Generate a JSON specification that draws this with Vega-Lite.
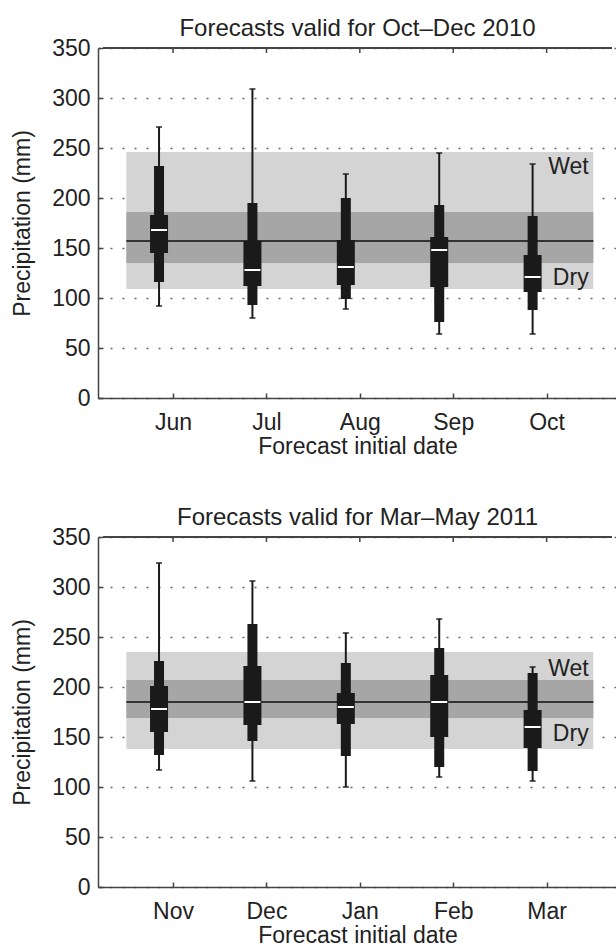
{
  "$schema": "https://vega.github.io/schema/vega-lite/v6.json",
  "padding": {"left": 11, "top": 17, "right": 0, "bottom": 0},
  "spacing": 48,
  "datasets": {
    "boxes": [
      {"panel": 1, "month": "Jun", "pos": 0.85, "min": 92, "p10": 116, "q25": 145, "med": 168, "q75": 183, "p90": 232, "max": 271},
      {"panel": 1, "month": "Jul", "pos": 1.85, "min": 80, "p10": 93, "q25": 112, "med": 128, "q75": 157, "p90": 195, "max": 309},
      {"panel": 1, "month": "Aug", "pos": 2.85, "min": 89, "p10": 99, "q25": 113, "med": 131, "q75": 158, "p90": 200, "max": 224},
      {"panel": 1, "month": "Sep", "pos": 3.85, "min": 64, "p10": 76, "q25": 111, "med": 148, "q75": 161, "p90": 193, "max": 245},
      {"panel": 1, "month": "Oct", "pos": 4.85, "min": 64, "p10": 88, "q25": 106, "med": 121, "q75": 143, "p90": 182, "max": 234},
      {"panel": 2, "month": "Nov", "pos": 0.85, "min": 117, "p10": 132, "q25": 155, "med": 178, "q75": 201, "p90": 226, "max": 324},
      {"panel": 2, "month": "Dec", "pos": 1.85, "min": 106, "p10": 146, "q25": 162, "med": 185, "q75": 221, "p90": 263, "max": 306},
      {"panel": 2, "month": "Jan", "pos": 2.85, "min": 100, "p10": 131, "q25": 163, "med": 180, "q75": 194, "p90": 224, "max": 254},
      {"panel": 2, "month": "Feb", "pos": 3.85, "min": 110, "p10": 120, "q25": 150, "med": 185, "q75": 212, "p90": 239, "max": 268},
      {"panel": 2, "month": "Mar", "pos": 4.85, "min": 106, "p10": 116, "q25": 139, "med": 160, "q75": 177, "p90": 214, "max": 220}
    ],
    "bands": [
      {"panel": 1, "x0": 0.5, "x1": 5.5, "lo1": 109, "hi1": 246, "lo2": 135, "hi2": 186, "clim": 157},
      {"panel": 2, "x0": 0.5, "x1": 5.5, "lo1": 138, "hi1": 235, "lo2": 169, "hi2": 207, "clim": 185}
    ],
    "labels": [
      {"panel": 1, "x": 5.45, "y": 231, "text": "Wet"},
      {"panel": 1, "x": 5.45, "y": 120, "text": "Dry"},
      {"panel": 2, "x": 5.45, "y": 218, "text": "Wet"},
      {"panel": 2, "x": 5.45, "y": 153, "text": "Dry"}
    ],
    "ticks": [{"t": 1}, {"t": 2}, {"t": 3}, {"t": 4}, {"t": 5}]
  },
  "config": {
    "font": "Liberation Sans",
    "view": {"stroke": null},
    "axis": {
      "labelFontSize": 23, "titleFontSize": 23, "labelColor": "#222", "titleColor": "#222",
      "titleFontWeight": "normal", "domainColor": "#444", "domainWidth": 1.5,
      "tickColor": "#444", "tickWidth": 1.5, "tickSize": -5
    },
    "title": {"fontSize": 24, "fontWeight": "normal", "color": "#222", "offset": -4}
  },
  "vconcat": [
    {
      "title": "Forecasts valid for Oct–Dec 2010",
      "width": 519, "height": 350,
      "layer": [
        {
          "data": {"name": "bands"}, "transform": [{"filter": "datum.panel == 1"}],
          "mark": {"type": "rect", "color": "#d4d4d4"},
          "encoding": {
            "x": {"field": "x0", "type": "quantitative", "scale": {"domain": [0.25, 5.7], "nice": false, "zero": false},
                  "axis": {"values": [1, 2, 3, 4, 5], "labelExpr": "['','Jun','Jul','Aug','Sep','Oct'][datum.value]", "title": "Forecast initial date", "labelPadding": 18, "titlePadding": 1, "grid": false}},
            "x2": {"field": "x1"},
            "y": {"field": "lo1", "type": "quantitative", "scale": {"domain": [0, 350], "nice": false},
                  "axis": {"values": [0, 50, 100, 150, 200, 250, 300, 350], "title": "Precipitation (mm)", "labelPadding": 13, "titlePadding": 17, "grid": true, "gridDash": [2, 10], "gridColor": "#666", "gridWidth": 1.5}},
            "y2": {"field": "hi1"}
          }
        },
        {
          "data": {"name": "bands"}, "transform": [{"filter": "datum.panel == 1"}],
          "mark": {"type": "rect", "color": "#a6a6a6"},
          "encoding": {
            "x": {"field": "x0", "type": "quantitative"},
            "x2": {"field": "x1"},
            "y": {"field": "lo2", "type": "quantitative"},
            "y2": {"field": "hi2"}
          }
        },
        {
          "data": {"name": "bands"}, "transform": [{"filter": "datum.panel == 1"}],
          "mark": {"type": "rule", "color": "#333", "strokeWidth": 2},
          "encoding": {
            "x": {"field": "x0", "type": "quantitative"},
            "x2": {"field": "x1"},
            "y": {"field": "clim", "type": "quantitative"}
          }
        },
        {
          "data": {"name": "ticks"},
          "mark": {"type": "rule", "color": "#444", "strokeWidth": 1.5},
          "encoding": {
            "x": {"field": "t", "type": "quantitative"},
            "y": {"datum": 350},
            "y2": {"datum": 345}
          }
        },
        {
          "data": {"name": "ticks"},
          "mark": {"type": "rule", "color": "#444", "strokeWidth": 1.5},
          "encoding": {
            "x": {"datum": 0.25},
            "x2": {"datum": 5.7},
            "y": {"datum": 350}
          }
        },
        {
          "data": {"name": "boxes"}, "transform": [{"filter": "datum.panel == 1"}],
          "mark": {"type": "rule", "color": "#1a1a1a", "strokeWidth": 2},
          "encoding": {
            "x": {"field": "pos", "type": "quantitative"},
            "y": {"field": "min", "type": "quantitative"},
            "y2": {"field": "max"}
          }
        },
        {
          "data": {"name": "boxes"}, "transform": [{"filter": "datum.panel == 1"}, {"fold": ["min", "max"], "as": ["stat", "val"]}],
          "mark": {"type": "tick", "color": "#1a1a1a", "orient": "horizontal", "size": 6, "thickness": 2},
          "encoding": {
            "x": {"field": "pos", "type": "quantitative"},
            "y": {"field": "val", "type": "quantitative"}
          }
        },
        {
          "data": {"name": "boxes"}, "transform": [{"filter": "datum.panel == 1"}],
          "mark": {"type": "bar", "color": "#1a1a1a", "size": 10},
          "encoding": {
            "x": {"field": "pos", "type": "quantitative"},
            "y": {"field": "p10", "type": "quantitative"},
            "y2": {"field": "p90"}
          }
        },
        {
          "data": {"name": "boxes"}, "transform": [{"filter": "datum.panel == 1"}],
          "mark": {"type": "bar", "color": "#1a1a1a", "size": 18},
          "encoding": {
            "x": {"field": "pos", "type": "quantitative"},
            "y": {"field": "q25", "type": "quantitative"},
            "y2": {"field": "q75"}
          }
        },
        {
          "data": {"name": "boxes"}, "transform": [{"filter": "datum.panel == 1"}],
          "mark": {"type": "tick", "color": "white", "orient": "horizontal", "size": 16, "thickness": 2, "opacity": 1},
          "encoding": {
            "x": {"field": "pos", "type": "quantitative"},
            "y": {"field": "med", "type": "quantitative"}
          }
        },
        {
          "data": {"name": "labels"}, "transform": [{"filter": "datum.panel == 1"}],
          "mark": {"type": "text", "align": "right", "baseline": "middle", "fontSize": 23, "color": "#222"},
          "encoding": {
            "x": {"field": "x", "type": "quantitative"},
            "y": {"field": "y", "type": "quantitative"},
            "text": {"field": "text"}
          }
        }
      ]
    },
    {
      "title": "Forecasts valid for Mar–May 2011",
      "width": 519, "height": 350,
      "layer": [
        {
          "data": {"name": "bands"}, "transform": [{"filter": "datum.panel == 2"}],
          "mark": {"type": "rect", "color": "#d4d4d4"},
          "encoding": {
            "x": {"field": "x0", "type": "quantitative", "scale": {"domain": [0.25, 5.7], "nice": false, "zero": false},
                  "axis": {"values": [1, 2, 3, 4, 5], "labelExpr": "['','Nov','Dec','Jan','Feb','Mar'][datum.value]", "title": "Forecast initial date", "labelPadding": 18, "titlePadding": 1, "grid": false}},
            "x2": {"field": "x1"},
            "y": {"field": "lo1", "type": "quantitative", "scale": {"domain": [0, 350], "nice": false},
                  "axis": {"values": [0, 50, 100, 150, 200, 250, 300, 350], "title": "Precipitation (mm)", "labelPadding": 13, "titlePadding": 17, "grid": true, "gridDash": [2, 10], "gridColor": "#666", "gridWidth": 1.5}},
            "y2": {"field": "hi1"}
          }
        },
        {
          "data": {"name": "bands"}, "transform": [{"filter": "datum.panel == 2"}],
          "mark": {"type": "rect", "color": "#a6a6a6"},
          "encoding": {
            "x": {"field": "x0", "type": "quantitative"},
            "x2": {"field": "x1"},
            "y": {"field": "lo2", "type": "quantitative"},
            "y2": {"field": "hi2"}
          }
        },
        {
          "data": {"name": "bands"}, "transform": [{"filter": "datum.panel == 2"}],
          "mark": {"type": "rule", "color": "#333", "strokeWidth": 2},
          "encoding": {
            "x": {"field": "x0", "type": "quantitative"},
            "x2": {"field": "x1"},
            "y": {"field": "clim", "type": "quantitative"}
          }
        },
        {
          "data": {"name": "ticks"},
          "mark": {"type": "rule", "color": "#444", "strokeWidth": 1.5},
          "encoding": {
            "x": {"field": "t", "type": "quantitative"},
            "y": {"datum": 350},
            "y2": {"datum": 345}
          }
        },
        {
          "data": {"name": "ticks"},
          "mark": {"type": "rule", "color": "#444", "strokeWidth": 1.5},
          "encoding": {
            "x": {"datum": 0.25},
            "x2": {"datum": 5.7},
            "y": {"datum": 350}
          }
        },
        {
          "data": {"name": "boxes"}, "transform": [{"filter": "datum.panel == 2"}],
          "mark": {"type": "rule", "color": "#1a1a1a", "strokeWidth": 2},
          "encoding": {
            "x": {"field": "pos", "type": "quantitative"},
            "y": {"field": "min", "type": "quantitative"},
            "y2": {"field": "max"}
          }
        },
        {
          "data": {"name": "boxes"}, "transform": [{"filter": "datum.panel == 2"}, {"fold": ["min", "max"], "as": ["stat", "val"]}],
          "mark": {"type": "tick", "color": "#1a1a1a", "orient": "horizontal", "size": 6, "thickness": 2},
          "encoding": {
            "x": {"field": "pos", "type": "quantitative"},
            "y": {"field": "val", "type": "quantitative"}
          }
        },
        {
          "data": {"name": "boxes"}, "transform": [{"filter": "datum.panel == 2"}],
          "mark": {"type": "bar", "color": "#1a1a1a", "size": 10},
          "encoding": {
            "x": {"field": "pos", "type": "quantitative"},
            "y": {"field": "p10", "type": "quantitative"},
            "y2": {"field": "p90"}
          }
        },
        {
          "data": {"name": "boxes"}, "transform": [{"filter": "datum.panel == 2"}],
          "mark": {"type": "bar", "color": "#1a1a1a", "size": 18},
          "encoding": {
            "x": {"field": "pos", "type": "quantitative"},
            "y": {"field": "q25", "type": "quantitative"},
            "y2": {"field": "q75"}
          }
        },
        {
          "data": {"name": "boxes"}, "transform": [{"filter": "datum.panel == 2"}],
          "mark": {"type": "tick", "color": "white", "orient": "horizontal", "size": 16, "thickness": 2, "opacity": 1},
          "encoding": {
            "x": {"field": "pos", "type": "quantitative"},
            "y": {"field": "med", "type": "quantitative"}
          }
        },
        {
          "data": {"name": "labels"}, "transform": [{"filter": "datum.panel == 2"}],
          "mark": {"type": "text", "align": "right", "baseline": "middle", "fontSize": 23, "color": "#222"},
          "encoding": {
            "x": {"field": "x", "type": "quantitative"},
            "y": {"field": "y", "type": "quantitative"},
            "text": {"field": "text"}
          }
        }
      ]
    }
  ]
}
